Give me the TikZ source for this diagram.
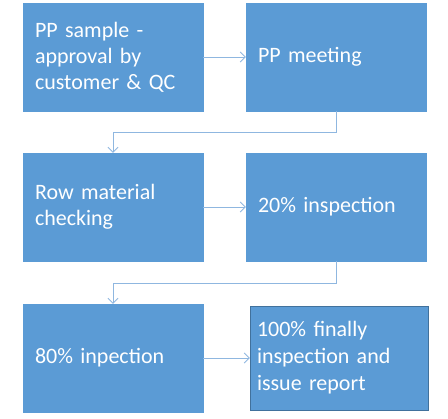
\documentclass[tikz,border=0pt]{standalone}
\usepackage{fontspec}
\setmainfont{Carlito}
\usepackage{tikz}
\usetikzlibrary{arrows.meta,positioning}
\definecolor{boxblue}{HTML}{5B9BD5}
\definecolor{boxedge}{HTML}{41719C}
\definecolor{linkblue}{HTML}{8FB7E0}
\tikzstyle{stage}=[rectangle, fill=boxblue, draw=boxblue, text=white,
  minimum width=180pt, minimum height=108pt, inner xsep=12pt,
  text width=156pt, align=left, font=\fontsize{22}{26}\selectfont]
\tikzstyle{link}=[draw=linkblue, line width=0.8pt, -{Straight Barb[length=5pt,width=10pt]}]

\begin{document}
\begin{tikzpicture}[x=1pt,y=-1pt]

\useasboundingbox (0,0) rectangle (448,419);

% first row
\node[stage] (sample) at (113,57) {PP sample -\\approval by\\customer \& QC};
\node[stage] (meeting) at (336,57) {PP meeting};
\draw[link] (sample) -- (meeting);

% second row
\node[stage] (row) at (113,207) {Row material\\checking};
\node[stage] (twenty) at (336,207) {20\% inspection};
\draw[link] (row) -- (twenty);
\draw[link] (meeting.south) -- ++(0,21) -| (row.north);

% third row
\node[stage] (eighty) at (113,358) {80\% inpection};
\node[stage, draw=boxedge, minimum width=178pt, minimum height=104pt,
  inner xsep=7pt, text width=164pt, font=\fontsize{22}{27}\selectfont] (final) at (339,358)
  {100\% finally\\inspection and\\issue report};
\draw[link] (eighty) -- (final);
\draw[link] (twenty.south) -- ++(0,22) -| (eighty.north);

\end{tikzpicture}
\end{document}
